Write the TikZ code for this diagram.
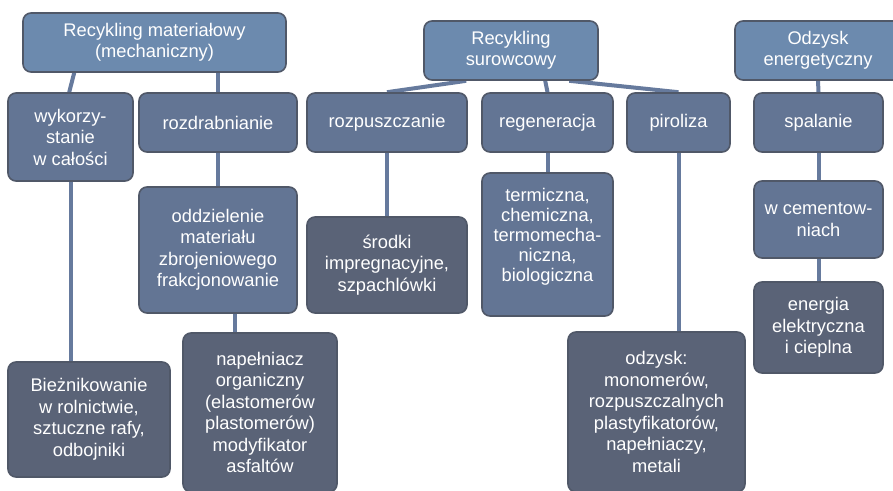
\documentclass[tikz,border=0pt]{standalone}
\usepackage{fontspec}
\setmainfont{Liberation Sans}
\usetikzlibrary{backgrounds}
\definecolor{topfill}{RGB}{108,138,174}
\definecolor{midfill}{RGB}{99,117,148}
\definecolor{lowfill}{RGB}{90,99,119}
\definecolor{edgec}{RGB}{80,88,104}
\definecolor{linkc}{RGB}{102,122,157}
\begin{document}
\begin{tikzpicture}[x=1pt,y=-1pt,
  box/.style={draw=edgec, line width=1.6pt, rounded corners=8pt, inner sep=0pt,
    align=center, text=white, font=\fontsize{18.3}{21.5}\selectfont},
  topbox/.style={box, fill=topfill},
  midbox/.style={box, fill=midfill},
  lowbox/.style={box, fill=lowfill},
  link/.style={draw=linkc, line width=4pt}]
\useasboundingbox (0,0) rectangle (893,490);
\clip (0,0) rectangle (893,490);
% top level
\node[topbox, minimum width=263pt, minimum height=59pt] (t1) at (154.5,42.5) {Recykling materiałowy\\(mechaniczny)};
\node[topbox, minimum width=174pt, minimum height=59pt] (t2) at (511,50.5) {Recykling\\surowcowy};
\node[topbox, minimum width=166pt, minimum height=59pt] (t3) at (818,50.5) {Odzysk\\energetyczny};
% second level
\node[midbox, minimum width=125pt, minimum height=88pt] (wyk) at (70.5,137) {wykorzy-\\stanie\\w całości};
\node[midbox, minimum width=158pt, minimum height=59pt] (roz) at (218,122.5) {rozdrabnianie};
\node[midbox, minimum width=160pt, minimum height=59pt] (rpu) at (387,122.5) {rozpuszczanie};
\node[midbox, minimum width=131pt, minimum height=59pt] (reg) at (547.5,122.5) {regeneracja};
\node[midbox, minimum width=103pt, minimum height=59pt] (pir) at (678.5,122.5) {piroliza};
\node[midbox, minimum width=129pt, minimum height=59pt] (spa) at (818.5,122.5) {spalanie};
% third level
\node[midbox, minimum width=158pt, minimum height=126pt] (odd) at (218,250) {oddzielenie\\materiału\\zbrojeniowego\\frakcjonowanie};
\node[lowbox, minimum width=160pt, minimum height=96pt] (sro) at (387,265) {środki\\impregnacyjne,\\szpachlówki};
\node[midbox, minimum width=131pt, minimum height=143pt, font=\fontsize{18.3}{20}\selectfont] (ter) at (547.5,244.5) {termiczna,\\chemiczna,\\termomecha-\\niczna,\\biologiczna\\};
\node[midbox, minimum width=129pt, minimum height=77pt] (cem) at (818.5,219.5) {w cementow-\\niach};
\node[lowbox, minimum width=129pt, minimum height=91pt] (ene) at (818.5,327.5) {energia\\elektryczna\\i cieplna};
% bottom level
\node[lowbox, minimum width=162pt, minimum height=115pt] (bie) at (89,419.5) {Bieżnikowanie\\w rolnictwie,\\sztuczne rafy,\\odbojniki};
\node[lowbox, minimum width=154pt, minimum height=159pt] (nap) at (260,412.5) {napełniacz\\organiczny\\(elastomerów\\plastomerów)\\modyfikator\\asfaltów};
\node[lowbox, minimum width=177pt, minimum height=160pt] (ods) at (656.5,412) {odzysk:\\monomerów,\\rozpuszczalnych\\plastyfikatorów,\\napełniaczy,\\metali};
% connectors
\begin{pgfonlayer}{background}
\draw[link] ([xshift=52pt]t1.south west) -- ([xshift=62pt]wyk.north west);
\draw[link] (t1.south -| roz.north) -- (roz.north);
\draw[link] (roz.south) -- (odd.north);
\draw[link] (wyk.south) -- (wyk.south |- bie.north);
\path ([xshift=17pt]odd.south) coordinate (a1);
\draw[link] (a1) -- (a1 |- nap.north);
\draw[link] ([xshift=43pt]t2.south west) -- (rpu.north);
\draw[link] ([xshift=122pt]t2.south west) -- (reg.north);
\draw[link] ([xshift=146pt]t2.south west) -- (pir.north);
\draw[link] (rpu.south) -- (sro.north);
\draw[link] (reg.south) -- (ter.north);
\draw[link] (pir.south) -- (pir.south |- ods.north);
\draw[link] (t3.south) -- (spa.north);
\draw[link] (spa.south) -- (cem.north);
\draw[link] (cem.south) -- (ene.north);
\end{pgfonlayer}
\end{tikzpicture}
\end{document}
